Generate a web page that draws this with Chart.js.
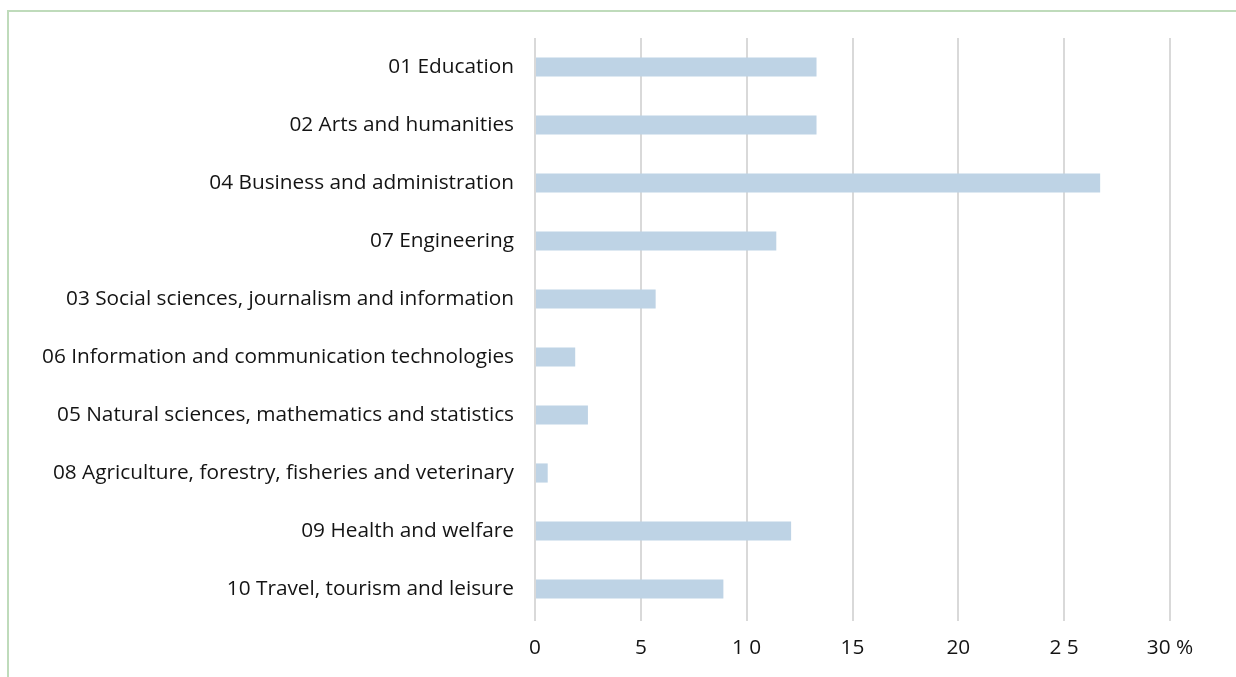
<!DOCTYPE html>
<html>
<head>
<meta charset="utf-8">
<script src="https://cdn.jsdelivr.net/npm/chart.js@4/dist/chart.umd.min.js"></script>
<style>
  html, body { margin: 0; padding: 0; background: #ffffff; }
  #wrap { position: relative; width: 1236px; height: 677px; overflow: hidden; }
  #frame {
    position: absolute; left: 7px; top: 10px; right: -10px; bottom: -10px;
    border-top: 2px solid #bfdbbb; border-left: 2px solid #bfdbbb;
    pointer-events: none;
  }
  canvas { position: absolute; left: 0; top: 0; }
</style>
</head>
<body>
<div id="wrap">
  <canvas id="chart" width="1236" height="677"></canvas>
  <div id="frame"></div>
</div>
<script>
// Fields of education, share of graduates (%)
const categories = [
  '01 Education',
  '02 Arts and humanities',
  '04 Business and administration',
  '07 Engineering',
  '03 Social sciences, journalism and information',
  '06 Information and communication technologies',
  '05 Natural sciences, mathematics and statistics',
  '08 Agriculture, forestry, fisheries and veterinary',
  '09 Health and welfare',
  '10 Travel, tourism and leisure'
];
const shares = [13.3, 13.3, 26.7, 11.4, 5.7, 1.9, 2.5, 0.6, 12.1, 8.9];
const tickLabels = ['0', '5', '1 0', '15', '20', '2 5', '30 %'];

const font = { family: '"Open Sans", sans-serif', size: 20.8 };

new Chart(document.getElementById('chart'), {
  type: 'bar',
  data: {
    labels: categories,
    datasets: [{
      data: shares,
      backgroundColor: '#bed3e5',
      borderWidth: 0,
      categoryPercentage: 1,
      barPercentage: 0.33
    }]
  },
  options: {
    indexAxis: 'y',
    responsive: false,
    animation: false,
    layout: { padding: { top: 38, right: 66, bottom: 0, left: 0 } },
    plugins: { legend: { display: false }, tooltip: { enabled: false } },
    scales: {
      x: {
        min: 0, max: 30,
        ticks: {
          stepSize: 5,
          color: '#141414',
          font: font,
          padding: 15,
          maxRotation: 0,
          callback: (v, i) => tickLabels[i]
        },
        grid: { color: '#d9d9d9', lineWidth: 2, drawTicks: true, tickLength: 3 },
        border: { display: false },
        afterFit: s => { s.height = 59; }
      },
      y: {
        ticks: { color: '#141414', font: font, padding: 21 },
        grid: { display: false, drawTicks: false },
        border: { display: false },
        afterFit: s => { s.width = 535; }
      }
    }
  }
});
</script>
</body>
</html>
